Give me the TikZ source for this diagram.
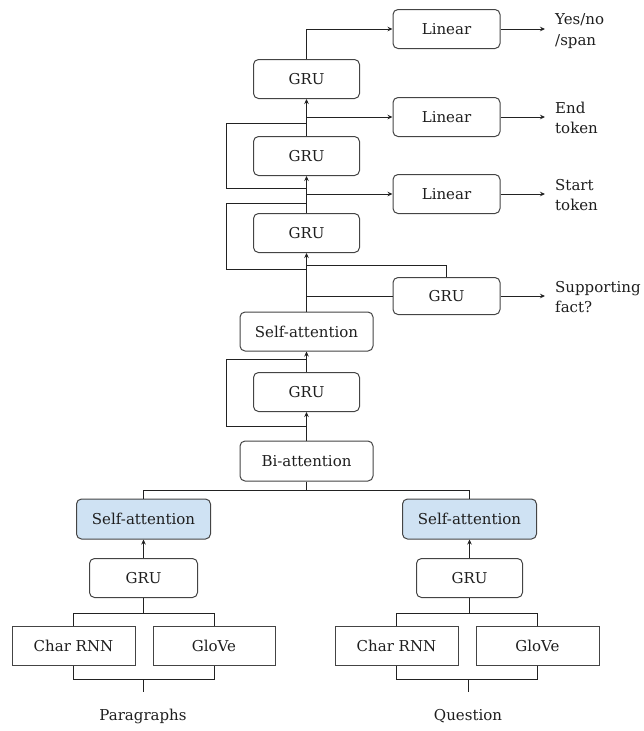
\documentclass[tikz,border=0pt]{standalone}
\usepackage{fontspec}
\setmainfont{DejaVu Serif}
\usetikzlibrary{arrows.meta}
\definecolor{ln}{HTML}{222222}
\definecolor{bd}{HTML}{444444}
\definecolor{txt}{HTML}{1E1E1E}
\definecolor{blu}{HTML}{CFE2F3}
\begin{document}
\begin{tikzpicture}[x=1pt,y=-1pt,
  every node/.style={font=\fontsize{15}{17}\selectfont, text=txt},
  rbox/.style={draw=bd, line width=1pt, rounded corners=5pt, minimum height=39pt, inner sep=0pt, anchor=center},
  sbox/.style={draw=bd, line width=1pt, minimum height=39pt, inner sep=0pt},
  blue/.style={rbox, fill=blu},
  outlbl/.style={align=left, anchor=west, inner sep=0pt, font=\fontsize{15}{20.5}\selectfont},
  conn/.style={draw=ln, line width=0.9pt},
  arr/.style={conn, -{Stealth[length=5pt,width=4.5pt]}}]
\useasboundingbox (0,0) rectangle (644,731);
% nodes
\node[rbox, minimum width=107pt] (lin1) at (446.5,29) {Linear};
\node[rbox, minimum width=106pt] (gru1) at (306.5,79) {GRU};
\node[rbox, minimum width=107pt] (lin2) at (446.5,117) {Linear};
\node[rbox, minimum width=106pt] (gru2) at (306.5,156) {GRU};
\node[rbox, minimum width=107pt] (lin3) at (446.5,194) {Linear};
\node[rbox, minimum width=106pt] (gru3) at (306.5,233) {GRU};
\node[rbox, minimum width=107pt, minimum height=37pt] (gru4) at (446.5,296) {GRU};
\node[rbox, minimum width=133pt] (sa) at (306.5,331.5) {Self-attention};
\node[rbox, minimum width=106pt] (gru5) at (306.5,392) {GRU};
\node[rbox, minimum width=133pt, minimum height=40pt] (bi) at (306.5,461) {Bi-attention};
\node[blue, minimum width=134pt, minimum height=40pt] (saL) at (143.5,519) {Self-attention};
\node[blue, minimum width=134pt, minimum height=40pt] (saR) at (469.5,519) {Self-attention};
\node[rbox, minimum width=108pt] (gruL) at (143.5,578) {GRU};
\node[rbox, minimum width=106pt] (gruR) at (469.5,578) {GRU};
\node[sbox, minimum width=123pt] (crL) at (73.5,645.5) {Char RNN};
\node[sbox, minimum width=122pt] (glL) at (214,645.5) {GloVe};
\node[sbox, minimum width=123pt] (crR) at (396.5,645.5) {Char RNN};
\node[sbox, minimum width=123pt] (glR) at (537.5,645.5) {GloVe};
\node (par) at (143,716) {Paragraphs};
\node (que) at (468,716) {Question};
\node[outlbl] (o1) at (555,31) {Yes/no\\/span};
\node[outlbl] (o2) at (555,118) {End\\token};
\node[outlbl] (o3) at (555,195) {Start\\token};
\node[outlbl] (o4) at (555,297) {Supporting\\fact?};
% coordinates
\coordinate (b2) at (306.5,117);
\coordinate (l2a) at (306.5,123);
\coordinate (l2b) at (226,123);
\coordinate (l2c) at (226,188);
\coordinate (l2d) at (306.5,188);
\coordinate (b3) at (306.5,194);
\coordinate (l3a) at (306.5,203);
\coordinate (l3b) at (226,203);
\coordinate (l3c) at (226,269);
\coordinate (l3d) at (306.5,269);
\coordinate (g4a) at (306.5,265);
\coordinate (g4b) at (306.5,296);
\coordinate (l5a) at (306.5,359);
\coordinate (l5b) at (226,359);
\coordinate (l5c) at (226,426);
\coordinate (l5d) at (306.5,426);
\coordinate (bj) at (306.5,490);
\coordinate (jL) at (143.5,490);
\coordinate (jR) at (469.5,490);
\coordinate (pL) at (143.5,613);
\coordinate (pLa) at (73.5,613);
\coordinate (pLb) at (214,613);
\coordinate (qL) at (143,679);
\coordinate (qLa) at (73.5,679);
\coordinate (qLb) at (214,679);
\coordinate (qLe) at (143,692);
\coordinate (pR) at (469.5,613);
\coordinate (pRa) at (396.5,613);
\coordinate (pRb) at (537.5,613);
\coordinate (qR) at (468,679);
\coordinate (qRa) at (396.5,679);
\coordinate (qRb) at (537.5,679);
\coordinate (qRe) at (468,692);
\coordinate (e1) at (545,29);
\coordinate (e2) at (545,117);
\coordinate (e3) at (545,194);
\coordinate (e4) at (545,296);
% connectors
\draw[arr] (gru1.north) |- (lin1.west);
\draw[arr] (lin1.east) -- (e1);
\draw[arr] (gru2.north) -- (gru1.south);
\draw[arr] (b2) -- (lin2.west);
\draw[arr] (lin2.east) -- (e2);
\draw[conn] (l2a) -- (l2b) -- (l2c) -- (l2d);
\draw[arr] (gru3.north) -- (gru2.south);
\draw[arr] (b3) -- (lin3.west);
\draw[arr] (lin3.east) -- (e3);
\draw[conn] (l3a) -- (l3b) -- (l3c) -- (l3d);
\draw[conn] (g4a) -| (gru4.north);
\draw[conn] (g4b) -- (gru4.west);
\draw[arr] (gru4.east) -- (e4);
\draw[arr] (sa.north) -- (gru3.south);
\draw[arr] (gru5.north) -- (sa.south);
\draw[conn] (l5a) -- (l5b) -- (l5c) -- (l5d);
\draw[arr] (bi.north) -- (gru5.south);
\draw[conn] (bi.south) -- (bj);
\draw[conn] (saL.north) -- (jL) -- (jR) -- (saR.north);
\draw[arr] (gruL.north) -- (saL.south);
\draw[arr] (gruR.north) -- (saR.south);
\draw[conn] (gruL.south) -- (pL);
\draw[conn] (crL.north) -- (pLa) -- (pLb) -- (glL.north);
\draw[conn] (crL.south) -- (qLa) -- (qLb) -- (glL.south);
\draw[conn] (qL) -- (qLe);
\draw[conn] (gruR.south) -- (pR);
\draw[conn] (crR.north) -- (pRa) -- (pRb) -- (glR.north);
\draw[conn] (crR.south) -- (qRa) -- (qRb) -- (glR.south);
\draw[conn] (qR) -- (qRe);
\end{tikzpicture}
\end{document}
